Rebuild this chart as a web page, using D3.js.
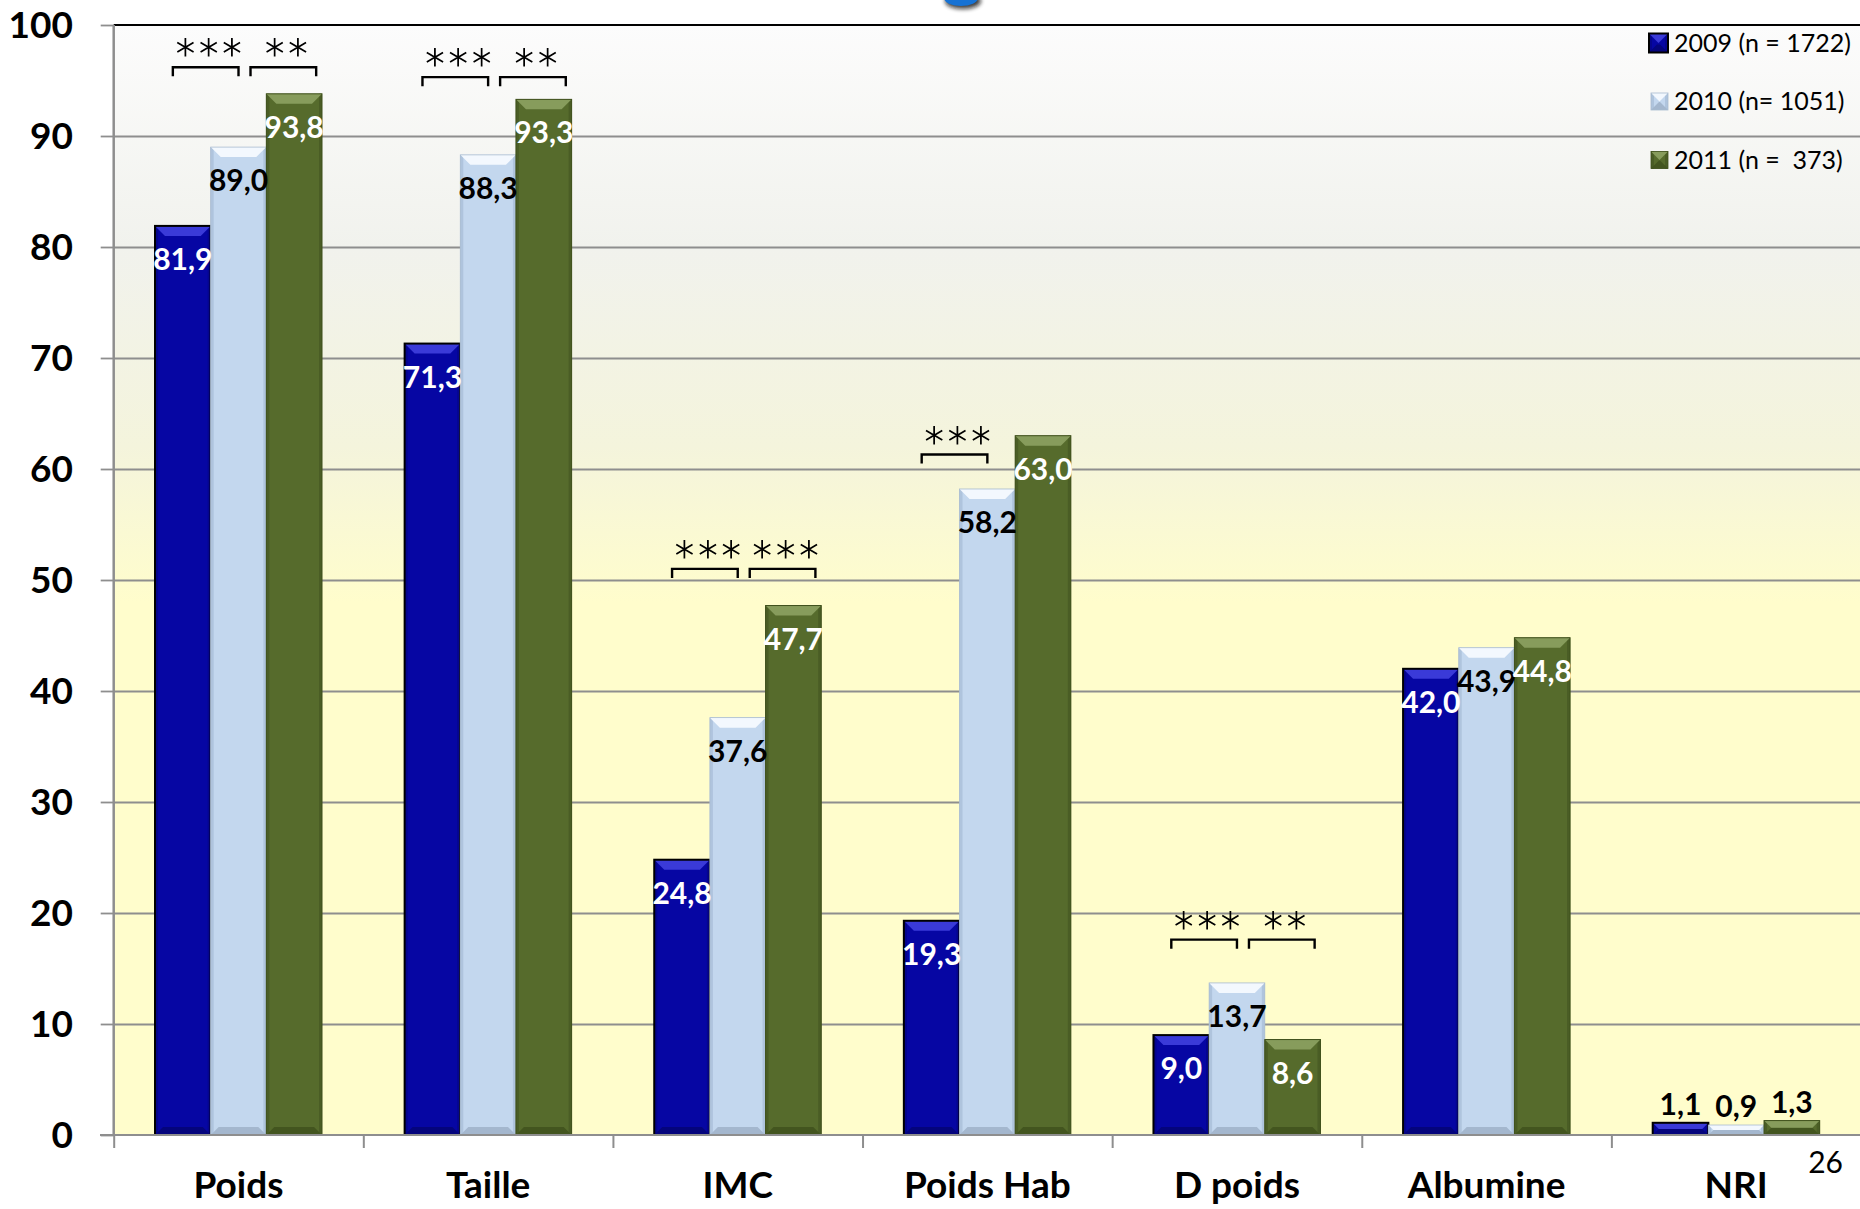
<!DOCTYPE html>
<html>
<head>
<meta charset="utf-8">
<script src="https://cdn.jsdelivr.net/npm/d3@7"></script>
<style>
  html, body { margin: 0; padding: 0; background: #ffffff; }
  svg { display: block; }
  text { font-family: Lato, "Open Sans", sans-serif; }
</style>
</head>
<body>
<svg id="chart" width="1860" height="1209"></svg>
<script>
// Categories and yearly percentages
const categories = ["Poids", "Taille", "IMC", "Poids Hab", "D poids", "Albumine", "NRI"];
const seriesNames = ["2009 (n = 1722)", "2010 (n= 1051)", "2011 (n =  373)"];
const values2009 = [81.9, 71.3, 24.8, 19.3, 9.0, 42.0, 1.1];
const values2010 = [89.0, 88.3, 37.6, 58.2, 13.7, 43.9, 0.9];
const values2011 = [93.8, 93.3, 47.7, 63.0, 8.6, 44.8, 1.3];
const yTicks = [0, 10, 20, 30, 40, 50, 60, 70, 80, 90, 100];

// Significance brackets between adjacent years
const bracketCategories = ["Poids", "Poids", "Taille", "Taille", "IMC", "IMC", "Poids Hab", "D poids", "D poids"];
const bracketFrom = [0, 1, 0, 1, 0, 1, 0, 0, 1];
const bracketLevels = [96.2, 96.2, 95.3, 95.3, 51.0, 51.0, 61.3, 17.6, 17.6];
const bracketStars = ["***", "**", "***", "**", "***", "***", "***", "***", "**"];

const seriesValues = [values2009, values2010, values2011];

const W = 1860, H = 1209;
const plotLeft = 113.7, plotRight = 1861, plotTop = 25, plotBottom = 1135;

const svg = d3.select("#chart");

// Bar styles per year: face, top bevel, side edges, bottom bevel, outline
const styles = [
  { base: "#0606a3", top: "#3a3ad8", side: "#05058c", bottom: "#04047c", stroke: "#000000", sw: 2, label: "#ffffff" },
  { base: "#c3d7ee", top: "#f3f8fe", side: "#afc4dd", bottom: "#a4b7ce", stroke: "#a9bbd0", sw: 0.8, label: "#000000" },
  { base: "#566b2c", top: "#879c5c", side: "#4a5d25", bottom: "#43551f", stroke: "#3f501c", sw: 1, label: "#ffffff" }
];

const defs = svg.append("defs");
const bg = defs.append("linearGradient").attr("id", "plotBg")
  .attr("x1", 0).attr("y1", 0).attr("x2", 0).attr("y2", 1);
[[0, "#fcfcfc"], [0.2, "#f1f2ed"], [0.38, "#f4f4dc"], [0.52, "#fffdcc"], [1, "#fffdcc"]]
  .forEach(([o, c]) => bg.append("stop").attr("offset", o).attr("stop-color", c));

const shadow = defs.append("filter").attr("id", "logoShadow")
  .attr("x", "-50%").attr("y", "-50%").attr("width", "200%").attr("height", "200%");
shadow.append("feGaussianBlur").attr("stdDeviation", 2);

// Scales
const x = d3.scaleBand().domain(categories).range([plotLeft, plotRight])
  .paddingInner(0.331).paddingOuter(0.1655);
const xs = d3.scaleBand().domain(d3.range(seriesNames.length)).range([0, x.bandwidth()]);
const y = d3.scaleLinear().domain([0, 100]).range([plotBottom, plotTop]);
const xEdge = d3.scaleLinear().domain([0, categories.length]).range([plotLeft, plotRight]);

// Partial logo at the top edge
svg.append("ellipse").attr("cx", 963).attr("cy", 1).attr("rx", 18).attr("ry", 8)
  .attr("fill", "#111").attr("opacity", 0.8).attr("filter", "url(#logoShadow)");
svg.append("ellipse").attr("cx", 961).attr("cy", -2).attr("rx", 17).attr("ry", 8)
  .attr("fill", "#1672d4");

// Plot background
svg.append("rect").attr("x", plotLeft).attr("y", plotTop)
  .attr("width", W - plotLeft).attr("height", plotBottom - plotTop)
  .attr("fill", "url(#plotBg)");

// Left ticks
const yAxis = svg.append("g").attr("transform", `translate(${plotLeft},0)`)
  .call(d3.axisLeft(y).tickValues(yTicks).tickSize(13).tickFormat(""));
yAxis.select(".domain").remove();
yAxis.selectAll(".tick line").attr("stroke", "#8e8e8e").attr("stroke-width", 1.8);

// Horizontal gridlines
const grid = svg.append("g").attr("transform", `translate(${plotLeft},0)`)
  .call(d3.axisRight(y).tickValues(yTicks.filter(v => v > 0 && v < 100)).tickSize(W - plotLeft).tickFormat(""));
grid.select(".domain").remove();
grid.selectAll(".tick line").attr("stroke", "#8e8e8e").attr("stroke-width", 1.8);

// Y tick labels
svg.append("g").selectAll("text").data(yTicks).join("text")
  .attr("x", 73).attr("y", d => y(d) + 13)
  .attr("text-anchor", "end")
  .attr("font-size", 37).attr("font-weight", 700).attr("fill", "#000")
  .text(d => d);

// Top border
svg.append("line").attr("x1", plotLeft).attr("x2", W).attr("y1", plotTop).attr("y2", plotTop)
  .attr("stroke", "#000").attr("stroke-width", 2);

// Bevelled bar
function drawBar(g, bx, by, bw, bh, st) {
  const t = Math.min(10, bh / 2);
  const b = Math.min(8, bh / 2);
  const s = Math.min(3, bw / 4);
  g.append("rect").attr("x", bx).attr("y", by).attr("width", bw).attr("height", bh).attr("fill", st.base);
  g.append("rect").attr("x", bx).attr("y", by).attr("width", s).attr("height", bh).attr("fill", st.side);
  g.append("rect").attr("x", bx + bw - s).attr("y", by).attr("width", s).attr("height", bh).attr("fill", st.side);
  g.append("polygon").attr("fill", st.bottom)
    .attr("points", [[bx, by + bh], [bx + bw, by + bh], [bx + bw - b, by + bh - b], [bx + b, by + bh - b]].join(" "));
  g.append("polygon").attr("fill", st.top)
    .attr("points", [[bx, by], [bx + bw, by], [bx + bw - t, by + t], [bx + t, by + t]].join(" "));
  g.append("rect").attr("x", bx).attr("y", by).attr("width", bw).attr("height", bh)
    .attr("fill", "none").attr("stroke", st.stroke).attr("stroke-width", st.sw);
}

// Bars
const barsG = svg.append("g");
seriesValues.forEach((vals, si) => {
  vals.forEach((v, ci) => {
    const bx = x(categories[ci]) + xs(si);
    drawBar(barsG, bx, y(v), xs.bandwidth(), y(0) - y(v), styles[si]);
  });
});

// Y axis line and baseline
svg.append("line").attr("x1", plotLeft).attr("x2", plotLeft).attr("y1", plotTop).attr("y2", plotBottom)
  .attr("stroke", "#8e8e8e").attr("stroke-width", 2.5);
svg.append("line").attr("x1", 100).attr("x2", W).attr("y1", plotBottom).attr("y2", plotBottom)
  .attr("stroke", "#8e8e8e").attr("stroke-width", 2.2);

// Category boundary ticks
const xTicks = svg.append("g").attr("transform", `translate(0,${plotBottom})`)
  .call(d3.axisBottom(xEdge).tickValues(d3.range(categories.length + 1)).tickSize(13).tickFormat(""));
xTicks.select(".domain").remove();
xTicks.selectAll(".tick line").attr("stroke", "#8e8e8e").attr("stroke-width", 2);

// Category labels
const xAxis = svg.append("g").attr("transform", `translate(0,${plotBottom})`)
  .call(d3.axisBottom(x).tickSize(0).tickPadding(0));
xAxis.select(".domain").remove();
xAxis.selectAll(".tick text")
  .attr("y", 63).attr("dy", null)
  .attr("font-family", "Lato, sans-serif")
  .attr("font-size", 37).attr("font-weight", 700).attr("fill", "#000");

// Value labels
const fmt = v => d3.format(".1f")(v).replace(".", ",");
const labelsG = svg.append("g");
seriesValues.forEach((vals, si) => {
  vals.forEach((v, ci) => {
    const cx = x(categories[ci]) + xs(si) + xs.bandwidth() / 2;
    const small = y(0) - y(v) < 50;
    labelsG.append("text")
      .attr("x", cx).attr("y", small ? y(v) - 8 : y(v) + 44)
      .attr("text-anchor", "middle")
      .attr("font-size", 30).attr("font-weight", 700)
      .attr("fill", small ? "#000" : styles[si].label)
      .text(fmt(v));
  });
});

// Significance brackets
const brG = svg.append("g");
const starSpacing = -3;
bracketCategories.forEach((cat, i) => {
  const a = bracketFrom[i];
  const ca = x(cat) + xs(a) + xs.bandwidth() / 2;
  const cb = x(cat) + xs(a + 1) + xs.bandwidth() / 2;
  const shift = a === 0 ? -10 : 12;
  const x1 = ca + shift, x2 = cb + shift + 10;
  const ly = y(bracketLevels[i]);
  brG.append("path")
    .attr("d", `M${x1},${ly + 9}V${ly}H${x2}V${ly + 9}`)
    .attr("fill", "none").attr("stroke", "#000").attr("stroke-width", 2.4);
  brG.append("text")
    .attr("x", (x1 + x2) / 2 - starSpacing / 2).attr("y", ly + 18)
    .attr("text-anchor", "middle")
    .attr("font-family", "'DejaVu Sans', sans-serif")
    .attr("font-weight", 200)
    .attr("font-size", 62).attr("letter-spacing", starSpacing)
    .attr("fill", "#000").attr("stroke", "#000").attr("stroke-width", 1.1)
    .text(bracketStars[i]);
});

// Legend
const legend = svg.append("g");
seriesNames.forEach((name, i) => {
  const cy = 43 + i * 58.5;
  const sx = i === 0 ? 1649 : 1651;
  const sw = i === 0 ? 19 : 17;
  const lg = legend.append("g");
  drawBar(lg, sx, cy - sw / 2, sw, sw, Object.assign({}, styles[i], { sw: i === 0 ? 2 : 0.8 }));
  legend.append("text")
    .attr("x", 1674).attr("y", cy + 8.5)
    .attr("font-size", 25).attr("fill", "#000")
    .attr("xml:space", "preserve").style("white-space", "pre")
    .text(name);
});

// Page number
svg.append("text").attr("x", 1843).attr("y", 1173)
  .attr("text-anchor", "end")
  .attr("font-family", "'Liberation Sans', Arial, sans-serif")
  .attr("font-size", 30).attr("fill", "#000")
  .text("26");
</script>
</body>
</html>
